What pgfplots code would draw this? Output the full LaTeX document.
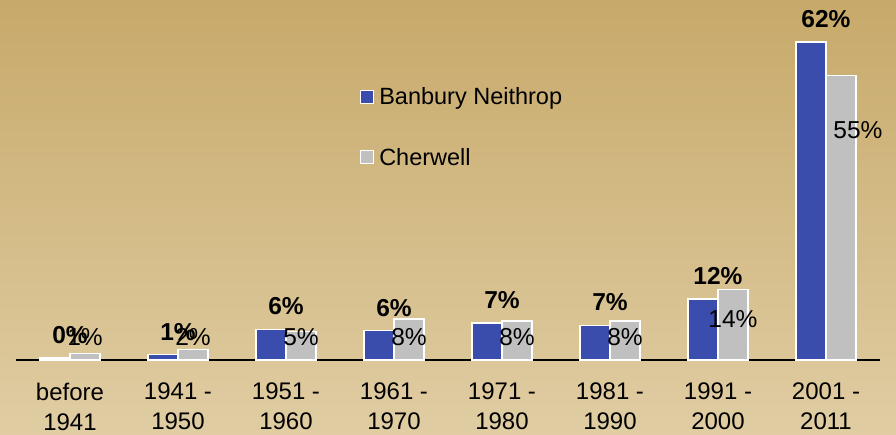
\documentclass[border=0pt]{standalone}
\usepackage{fontspec}
\setmainfont{Liberation Sans}
\usepackage{pgfplots}
\pgfplotsset{compat=1.18}
\definecolor{bnblue}{RGB}{58,77,173}
\definecolor{cwgray}{RGB}{192,192,192}
\definecolor{bgtop}{RGB}{199,169,106}
\definecolor{bgbot}{RGB}{224,205,163}
\pgfplotsset{mylegend/.style={legend image code/.code={\draw[##1, draw=white, line width=1.2pt] (0pt,-6.5pt) rectangle (13pt,6.5pt);}}}
\begin{document}
\begin{tikzpicture}
\shade[top color=bgtop, bottom color=bgbot] (0,0) rectangle (896pt,435pt);
\useasboundingbox (0,0) rectangle (896pt,435pt);
\begin{axis}[
  at={(16pt,75pt)}, anchor=south west,
  scale only axis, width=864pt, height=359pt,
  xmin=-0.5, xmax=7.5, ymin=0, ymax=70,
  clip=false,
  axis x line*=bottom, axis y line=none,
  x axis line style={black, line width=1.6pt, -},
  xtick={0,...,7},
  xticklabels={{before\\1941},{1941 -\\1950},{1951 -\\1960},{1961 -\\1970},{1971 -\\1980},{1981 -\\1990},{1991 -\\2000},{2001 -\\2011}},
  major tick length=0pt,
  xticklabel style={font=\fontsize{24}{29.5}\selectfont, align=center, anchor=north, inner sep=0pt, yshift=-23pt},
  legend style={at={(0.398,0.765)}, anchor=north west, draw=none, fill=none, font=\fontsize{23.5}{27}\selectfont, row sep=38pt, column sep=3pt, inner sep=0pt},
  legend cell align=left,
]
\addplot[ybar, mylegend, bar width=30pt, bar shift=-15pt, fill=bnblue, draw=white, line width=1.2pt,
  nodes near coords, point meta=explicit symbolic,
  every node near coord/.append style={anchor=base, yshift=14.5pt, inner sep=0pt, text=black, font=\bfseries\fontsize{24.5}{28}\selectfont}]
coordinates {(0,0.4)[0\%] (1,1.0)[1\%] (2,6.0)[6\%] (3,5.7)[6\%] (4,7.2)[7\%] (5,6.8)[7\%] (6,11.9)[12\%] (7,62)[62\%]};
\addlegendentry{Banbury Neithrop}
\addplot[ybar, mylegend, bar width=30pt, bar shift=15pt, fill=cwgray, draw=white, line width=1.2pt]
coordinates {(0,1.2) (1,2.1) (2,5.5) (3,8.0) (4,7.6) (5,7.6) (6,13.8) (7,55.4)};
\addlegendentry{Cherwell}
\addplot[draw=none, mark=none, forget plot, nodes near coords, point meta=explicit symbolic,
  every node near coord/.append style={anchor=base, inner sep=0pt, text=black, font=\fontsize{24.5}{28}\selectfont}]
coordinates {(0.139,2.92)[1\%] (1.139,2.92)[2\%] (2.139,2.92)[5\%] (3.139,2.92)[8\%] (4.139,2.92)[8\%] (5.139,2.92)[8\%] (6.139,6.24)[14\%] (7.296,43.1)[55\%]};
\end{axis}
\end{tikzpicture}
\end{document}
